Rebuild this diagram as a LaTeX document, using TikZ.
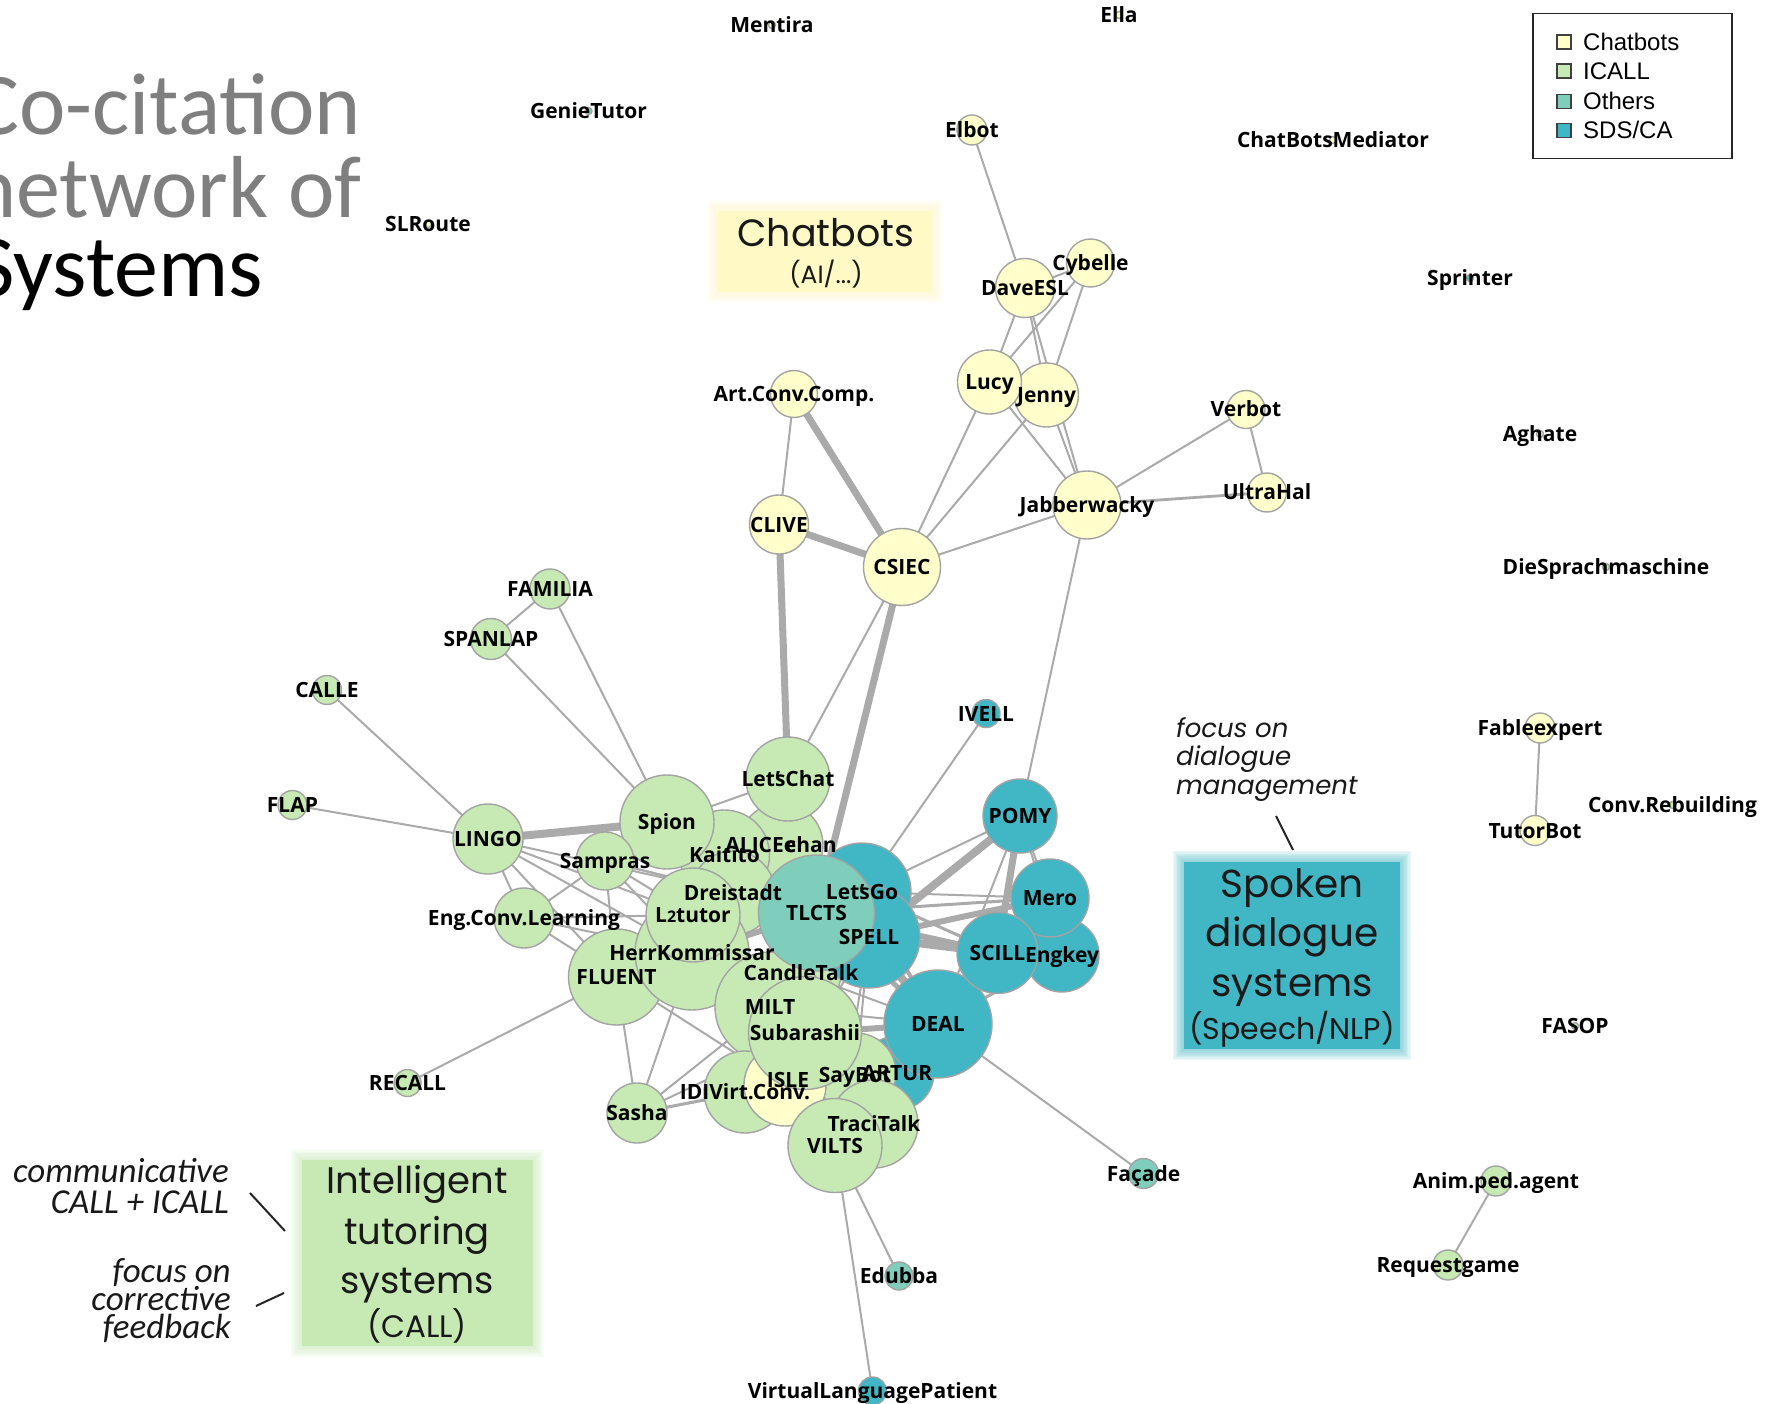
\documentclass[tikz,border=0pt]{standalone}
\usepackage{fontspec}
\setmainfont{Open Sans}
\newfontfamily\headfont{Poppins}
\newfontfamily\titlefont{Carlito}
\newfontfamily\legendfont{Liberation Sans}

\definecolor{chatc}{HTML}{FFFFCC}
\definecolor{icallc}{HTML}{C7E9B4}
\definecolor{othc}{HTML}{7FCDBB}
\definecolor{sdsc}{HTML}{41B6C4}
\definecolor{edgec}{HTML}{AAAAAA}
\definecolor{rimc}{HTML}{A3A3A3}
\definecolor{titlegray}{HTML}{7F7F7F}
\definecolor{chatbox}{HTML}{FFF9C6}

\pgfdeclarelayer{bglayer}
\pgfdeclarelayer{edgelayer}
\pgfdeclarelayer{textlayer}
\pgfsetlayers{bglayer,edgelayer,main,textlayer}

\tikzset{
  sysnode/.style={circle, draw=rimc, line width=1.4pt, inner sep=0pt, outer sep=0pt},
  lab/.style={font=\fontsize{21}{21}\selectfont\bfseries, inner sep=0pt,
              text height=15pt, text depth=0pt, text=black},
  edge/.style={draw=edgec, line width=2pt},
  boxtext/.style={font=\headfont, inner sep=0pt, anchor=base, text=black!90},
  note/.style={inner sep=0pt, text=black!90},
  legsq/.style={draw=black!75, line width=1.3pt, minimum size=14pt, inner sep=0pt},
  legtext/.style={anchor=west, inner sep=0pt, font=\legendfont\fontsize{24}{24}\selectfont,
                  text height=17pt, text depth=0pt},
}

% node: id, x, y, radius, fill
\newcommand\putnode[5]{\node[sysnode, fill=#5, minimum size={2*#4}] (#1) at (#2,#3) {};}
% label centred on a node
\newcommand\putlabel[2]{\node[lab] at (#1) {#2};}
% connector between two nodes, optional width
\newcommand\link[3][2]{\draw[edge, line width=#1pt] (#2.center) -- (#3.center);}
% soft-edged coloured panel
\newcommand\glowbox[5]{%
  \foreach \i in {1,...,8} {\fill[#5, opacity=0.09] (#1-\i*1.4,#2-\i*1.4) rectangle (#3+\i*1.4,#4+\i*1.4);}
  \fill[#5] (#1,#2) rectangle (#3,#4);}

\begin{document}
\begin{tikzpicture}[x=1pt, y=-1pt]
\useasboundingbox (0,0) rectangle (1765,1404);
\begin{pgfonlayer}{bglayer}
\fill[white] (0,0) rectangle (1765,1404);
\end{pgfonlayer}
\clip (0,0) rectangle (1765,1404);

% ---------- title ----------
\node[anchor=base west, inner sep=0pt, font=\titlefont\fontsize{88}{88}\selectfont, text=titlegray] (t1) at (-28,135) {Co-citation};
\node[anchor=base west, inner sep=0pt, font=\titlefont\fontsize{88}{88}\selectfont, text=titlegray] (t2) at (-30,218) {network of};
\node[anchor=base west, inner sep=0pt, font=\titlefont\fontsize{88}{88}\selectfont, text=black] (t3) at (-26,297) {Systems};

% ---------- category panels ----------
\glowbox{718}{211}{932}{292}{chatbox}
\node[boxtext, font=\headfont\fontsize{38}{38}\selectfont] (cb1) at (826,247) {Chatbots};
\node[boxtext, font=\headfont\fontsize{25}{25}\selectfont] (cb2) at (826,284) {(AI/...)};

\glowbox{1184}{862}{1400}{1049}{sdsc}
\node[boxtext, font=\headfont\fontsize{39}{39}\selectfont] (sd1) at (1292,897) {Spoken};
\node[boxtext, font=\headfont\fontsize{39}{39}\selectfont] (sd2) at (1292,946) {dialogue};
\node[boxtext, font=\headfont\fontsize{39}{39}\selectfont] (sd3) at (1292,996) {systems};
\node[boxtext, font=\headfont\fontsize{30}{30}\selectfont] (sd4) at (1292,1039) {(Speech/NLP)};

\glowbox{302}{1160}{533}{1346}{icallc}
\node[boxtext, font=\headfont\fontsize{37}{37}\selectfont] (it1) at (417,1193) {Intelligent};
\node[boxtext, font=\headfont\fontsize{37}{37}\selectfont] (it2) at (417,1244) {tutoring};
\node[boxtext, font=\headfont\fontsize{37}{37}\selectfont] (it3) at (417,1293) {systems};
\node[boxtext, font=\headfont\fontsize{31}{31}\selectfont] (it4) at (417,1337) {(CALL)};

% ---------- side notes ----------
\node[note, anchor=base west, font=\headfont\itshape\fontsize{26}{26}\selectfont] (n1) at (1176,737) {focus on};
\node[note, anchor=base west, font=\headfont\itshape\fontsize{26}{26}\selectfont] (n2) at (1176,765) {dialogue};
\node[note, anchor=base west, font=\headfont\itshape\fontsize{26}{26}\selectfont] (n3) at (1176,794) {management};
\coordinate (s1a) at (1276,816); \coordinate (s1b) at (1293,850);
\draw[line width=2pt, black!85] (s1a) -- (s1b);

\node[note, anchor=base east, font=\titlefont\itshape\fontsize{35}{35}\selectfont] (c1) at (229,1182) {communicative};
\node[note, anchor=base east, font=\titlefont\itshape\fontsize{35}{35}\selectfont] (c2) at (229,1213) {CALL + ICALL};
\node[note, anchor=base east, font=\titlefont\itshape\fontsize{35}{35}\selectfont] (f1) at (231,1282) {focus on};
\node[note, anchor=base east, font=\titlefont\itshape\fontsize{35}{35}\selectfont] (f2) at (231,1310) {corrective};
\node[note, anchor=base east, font=\titlefont\itshape\fontsize{35}{35}\selectfont] (f3) at (231,1338) {feedback};
\coordinate (s2a) at (250,1193); \coordinate (s2b) at (285,1231);
\coordinate (s3a) at (256,1306); \coordinate (s3b) at (284,1293);
\draw[line width=2pt, black!85] (s2a) -- (s2b);
\draw[line width=2pt, black!85] (s3a) -- (s3b);

% ---------- legend ----------
\draw[line width=1.2pt, black!85] (1533,13.5) rectangle (1732,158.7);
\node[legsq, fill=chatc]  (lg1) at (1564,42) {};
\node[legsq, fill=icallc] (lg2) at (1564,71) {};
\node[legsq, fill=othc]   (lg3) at (1564,101.5) {};
\node[legsq, fill=sdsc]   (lg4) at (1564,130.5) {};
\node[legtext] at (1583,42) {Chatbots};
\node[legtext] at (1583,71) {ICALL};
\node[legtext] at (1583,101.5) {Others};
\node[legtext] at (1583,130.5) {SDS/CA};

% ---------- nodes (bottom to top) ----------
\putnode{Elbot}{972}{130}{15}{chatc}
\putnode{DaveESL}{1025}{288}{29.5}{chatc}
\putnode{Cybelle}{1090.5}{263}{24}{chatc}
\putnode{Jenny}{1046.5}{395}{32}{chatc}
\putnode{Lucy}{989.5}{382}{32}{chatc}
\putnode{Jabber}{1087}{505}{34}{chatc}
\putnode{Verbot}{1246}{409.5}{19}{chatc}
\putnode{UltraHal}{1267}{492.5}{19.5}{chatc}
\putnode{ArtConv}{794}{394}{23.5}{chatc}
\putnode{CLIVE}{779}{524.5}{29.5}{chatc}
\putnode{CSIEC}{902}{567}{38.5}{chatc}

\putnode{FAMILIA}{550}{589}{20}{icallc}
\putnode{SPANLAP}{491}{639}{20.5}{icallc}
\putnode{CALLE}{327}{690}{14.5}{icallc}
\putnode{FLAP}{292.5}{805}{14.5}{icallc}
\putnode{LINGO}{488}{839}{35}{icallc}
\putnode{RECALL}{407.5}{1083}{13.5}{icallc}
\putnode{EngConv}{524}{918}{30}{icallc}
\putnode{FLUENT}{616.5}{977}{48}{icallc}
\putnode{Sasha}{637}{1113}{30}{icallc}
\putnode{ALICE}{781}{845}{42}{icallc}
\putnode{Kaitito}{724.5}{855}{45}{icallc}
\putnode{Spion}{667}{822}{47}{icallc}
\putnode{Sampras}{605}{861}{29}{icallc}
\putnode{LetsChat}{788}{779}{42}{icallc}
\putnode{Dreistadt}{733}{893}{42}{icallc}
\putnode{HerrK}{692}{953}{57}{icallc}
\putnode{L2tutor}{693}{915}{47}{icallc}
\putnode{CandleTalk}{801}{973}{40}{icallc}
\putnode{MILT}{770}{1007}{55}{icallc}
\putnode{ARTUR}{897}{1073}{37}{sdsc}
\putnode{SayBot}{856}{1073}{40}{icallc}
\putnode{IDI}{745}{1092}{41}{icallc}
\putnode{ISLE}{785}{1085}{41}{chatc}
\putnode{Subarashii}{805}{1033}{56.5}{icallc}
\putnode{TraciTalk}{874}{1124}{44}{icallc}
\putnode{VILTS}{835}{1145.5}{47}{icallc}
\putnode{LetsGo}{862}{892}{49}{sdsc}
\putnode{SPELL}{869}{937}{51}{sdsc}
\putnode{TLCTS}{816.5}{913}{58}{othc}
\putnode{DEAL}{938}{1024}{54}{sdsc}
\putnode{Engkey}{1062}{955}{37}{sdsc}
\putnode{Mero}{1050}{898}{39}{sdsc}
\putnode{SCILL}{997.5}{953}{40.5}{sdsc}
\putnode{POMY}{1020}{816}{37}{sdsc}
\putnode{IVELL}{986}{713.5}{14}{sdsc}
\putnode{Facade}{1143.5}{1173.5}{15}{othc}
\putnode{Edubba}{899}{1276}{14}{othc}
\putnode{VLP}{872.5}{1391}{14}{sdsc}
\putnode{Fable}{1540}{728}{15}{chatc}
\putnode{TutorBot}{1535}{830.5}{15}{chatc}
\putnode{AnimPed}{1496}{1181}{15}{icallc}
\putnode{Request}{1448}{1265}{15}{icallc}

\putnode{Mentira}{772}{25}{3.5}{chatc}
\putnode{Ella}{1119}{15}{3.5}{chatc}
\putnode{GenieTutor}{588.5}{111}{3.5}{othc}
\putnode{SLRoute}{428}{224}{3.5}{chatc}
\putnode{ChatBotsMed}{1333}{140}{3.5}{chatc}
\putnode{Sprinter}{1470}{278}{3.5}{sdsc}
\putnode{Aghate}{1540}{434}{3.5}{chatc}
\putnode{DieSprach}{1606}{567}{3.5}{icallc}
\putnode{ConvReb}{1672.5}{805}{3.5}{icallc}
\putnode{FASOP}{1575}{1026}{3.5}{icallc}

% ---------- connectors ----------
\begin{pgfonlayer}{edgelayer}
% chatbot group
\link{Elbot}{DaveESL}
\link{DaveESL}{Cybelle}
\link{DaveESL}{Lucy}
\link{DaveESL}{Jenny}
\link{DaveESL}{Jabber}
\link{Cybelle}{Lucy}
\link{Cybelle}{Jenny}
\link{Lucy}{Jabber}
\link{Jenny}{Jabber}
\link{Lucy}{CSIEC}
\link{Jenny}{CSIEC}
\link{Jabber}{CSIEC}
\link{Jabber}{Verbot}
\link[2.8]{Jabber}{UltraHal}
\link{Verbot}{UltraHal}
\link{Jabber}{POMY}
\link{ArtConv}{CLIVE}
\link[7]{ArtConv}{CSIEC}
\link[7]{CLIVE}{CSIEC}
\link[7]{CLIVE}{LetsChat}
\link{CSIEC}{LetsChat}
\link[7]{CSIEC}{TLCTS}
% ICALL group
\link{FAMILIA}{SPANLAP}
\link{FAMILIA}{Spion}
\link{SPANLAP}{Spion}
\link{CALLE}{LINGO}
\link{FLAP}{LINGO}
\link[8]{LINGO}{Spion}
\link{Spion}{LetsChat}
\link{LINGO}{EngConv}
\link{LINGO}{FLUENT}
\link{LINGO}{Dreistadt}
\link{LINGO}{L2tutor}
\link{LINGO}{HerrK}
\link{EngConv}{Sampras}
\link{EngConv}{FLUENT}
\link{EngConv}{L2tutor}
\link{EngConv}{HerrK}
\link{Sampras}{FLUENT}
\link{Sampras}{L2tutor}
\link{Sampras}{HerrK}
\link{Sampras}{Dreistadt}
\link{Sampras}{TLCTS}
\link{Spion}{Dreistadt}
\link{FLUENT}{RECALL}
\link{FLUENT}{Sasha}
\link{FLUENT}{ISLE}
\link{FLUENT}{TLCTS}
\link{HerrK}{Sasha}
\link[3]{Sasha}{IDI}
\link{Sasha}{MILT}
\link{Sasha}{Subarashii}
\link{Sasha}{ISLE}
\link[6]{HerrK}{TLCTS}
\link[3]{Dreistadt}{TLCTS}
\link{Kaitito}{TLCTS}
\link{ALICE}{TLCTS}
\link{LetsChat}{TLCTS}
\link{L2tutor}{SPELL}
% spoken dialogue group and the dense core
\link{IVELL}{LetsGo}
\link{POMY}{LetsGo}
\link[8]{POMY}{SPELL}
\link[7]{POMY}{SCILL}
\link{POMY}{Mero}
\link{POMY}{Engkey}
\link{POMY}{DEAL}
\link{LetsGo}{Mero}
\link[3]{LetsGo}{SCILL}
\link[6]{SPELL}{Mero}
\link[8]{SPELL}{SCILL}
\link[6]{TLCTS}{SCILL}
\link[3]{TLCTS}{Mero}
\link[3]{SPELL}{Engkey}
\link[6]{DEAL}{SCILL}
\link[3]{DEAL}{Engkey}
\link[8]{SPELL}{DEAL}
\link[5]{TLCTS}{DEAL}
\link[4]{LetsGo}{DEAL}
\link[4]{TLCTS}{SPELL}
\link{DEAL}{Facade}
\link[6]{Subarashii}{DEAL}
\link{MILT}{DEAL}
\link{MILT}{SPELL}
\link{MILT}{LetsGo}
\link{Subarashii}{SPELL}
\link{Subarashii}{LetsGo}
\link{Subarashii}{TLCTS}
\link{CandleTalk}{DEAL}
\link{CandleTalk}{SPELL}
\link{TraciTalk}{DEAL}
\link{VILTS}{DEAL}
\link{SayBot}{DEAL}
\link{SayBot}{SPELL}
\link{ISLE}{SPELL}
\link{ISLE}{DEAL}
\link{IDI}{SPELL}
\link{VILTS}{SPELL}
\link{VILTS}{Edubba}
\link{VILTS}{VLP}
% small pairs
\link{Fable}{TutorBot}
\link{AnimPed}{Request}
\end{pgfonlayer}

% ---------- labels ----------
\begin{pgfonlayer}{textlayer}
\putlabel{Elbot}{Elbot}
\putlabel{DaveESL}{DaveESL}
\putlabel{Cybelle}{Cybelle}
\putlabel{Jenny}{Jenny}
\putlabel{Lucy}{Lucy}
\putlabel{Jabber}{Jabberwacky}
\putlabel{Verbot}{Verbot}
\putlabel{UltraHal}{UltraHal}
\putlabel{ArtConv}{Art.Conv.Comp.}
\putlabel{CLIVE}{CLIVE}
\putlabel{CSIEC}{CSIEC}
\putlabel{FAMILIA}{FAMILIA}
\putlabel{SPANLAP}{SPANLAP}
\putlabel{CALLE}{CALLE}
\putlabel{FLAP}{FLAP}
\putlabel{LINGO}{LINGO}
\putlabel{RECALL}{RECALL}
\putlabel{EngConv}{Eng.Conv.Learning}
\putlabel{FLUENT}{FLUENT}
\putlabel{Sasha}{Sasha}
\putlabel{ALICE}{ALICEe\llap{c}han}
\putlabel{Kaitito}{Kaitito}
\putlabel{Spion}{Spion}
\putlabel{Sampras}{Sampras}
\putlabel{LetsChat}{Let\rlap{\kern0.03em'}sChat}
\putlabel{Dreistadt}{Dreistadt}
\putlabel{HerrK}{HerrKommissar}
\putlabel{L2tutor}{L{\fontsize{16}{16}\selectfont 2}tutor}
\putlabel{CandleTalk}{CandleTalk}
\putlabel{MILT}{MILT}
\node[lab] at (897,1073) {ARTUR};
\node[lab] at (855,1075) {SayBot};
\putlabel{IDI}{IDIVirt.Conv.}
\node[lab] at (788,1080) {ISLE};
\putlabel{Subarashii}{Subarashii}
\putlabel{TraciTalk}{TraciTalk}
\putlabel{VILTS}{VILTS}
\putlabel{LetsGo}{Let\rlap{\kern0.03em'}sGo}
\putlabel{SPELL}{SPELL}
\putlabel{TLCTS}{TLCTS}
\putlabel{DEAL}{DEAL}
\putlabel{Engkey}{Engkey}
\putlabel{Mero}{Mero}
\putlabel{SCILL}{SCILL}
\putlabel{POMY}{POMY}
\putlabel{IVELL}{IVELL}
\putlabel{Facade}{Façade}
\putlabel{Edubba}{Edubba}
\putlabel{VLP}{VirtualLanguagePatient}
\putlabel{Fable}{Fableexpert}
\putlabel{TutorBot}{TutorBot}
\putlabel{AnimPed}{Anim.ped.agent}
\putlabel{Request}{Requestgame}
\putlabel{Mentira}{Mentira}
\putlabel{Ella}{Ella}
\putlabel{GenieTutor}{GenieTutor}
\putlabel{SLRoute}{SLRoute}
\putlabel{ChatBotsMed}{ChatBotsMediator}
\putlabel{Sprinter}{Sprinter}
\putlabel{Aghate}{Aghate}
\putlabel{DieSprach}{DieSprachmaschine}
\putlabel{ConvReb}{Conv.Rebuilding}
\putlabel{FASOP}{FASOP}
\end{pgfonlayer}
\end{tikzpicture}
\end{document}
